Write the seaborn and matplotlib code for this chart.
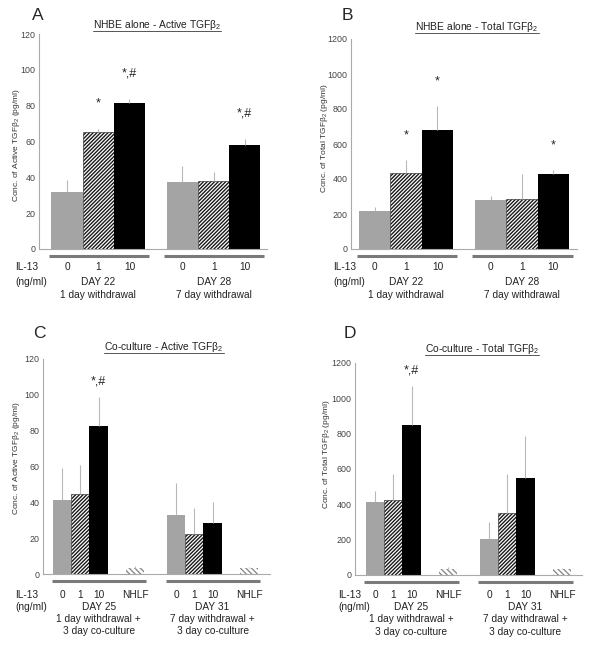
import numpy as np
import pandas as pd
import matplotlib
matplotlib.use('Agg')
import matplotlib.pyplot as plt
import seaborn as sns
from matplotlib import transforms

sns.set_style('white')
plt.rcParams['font.family'] = ['Liberation Sans', 'DejaVu Sans']
plt.rcParams['mathtext.fontset'] = 'custom'
plt.rcParams['mathtext.rm'] = 'Liberation Sans'
plt.rcParams['hatch.linewidth'] = 1.0

# ---- data (mean, SEM) ----
doses_ab = ['0', '1', '10', '0', '1', '10']
doses_cd = ['0', '1', '10', 'NHLF', '0', '1', '10', 'NHLF']

active_alone = [31.6, 65.1, 81.5, 37.2, 37.8, 57.9]
active_alone_sem = [7.1, 1.9, 2.4, 8.9, 5.2, 3.5]
total_alone = [215, 434, 682, 282, 286, 428]
total_alone_sem = [25, 73, 137, 19, 144, 22]
active_cocult = [41.4, 44.5, 82.4, 3.2, 33.0, 22.2, 28.7, 3.2]
active_cocult_sem = [17.6, 16.5, 16.6, 1.3, 18.0, 14.5, 11.7, 0.8]
total_cocult = [416, 425, 851, 32, 206, 350, 548, 32]
total_cocult_sem = [57, 146, 217, 11, 96, 221, 240, 6]

sig_a = {1: '*', 2: '*,#', 5: '*,#'}
sig_b = {1: '*', 2: '*', 5: '*'}
sig_c = {2: '*,#'}
sig_d = {2: '*,#'}

days_ab = [['DAY 22', '1 day withdrawal'], ['DAY 28', '7 day withdrawal']]
days_cd = [['DAY 25', '1 day withdrawal +', '3 day co-culture'],
           ['DAY 31', '7 day withdrawal +', '3 day co-culture']]

FW, FH = 600, 646
fig = plt.figure(figsize=(6, 6.46), dpi=100)


def fx(px):
    return px / FW


def fy(py):
    return 1 - py / FH


def style_bar(p, d):
    if d == '0':
        p.set_facecolor('#a4a4a4'); p.set_edgecolor('#a4a4a4'); p.set_linewidth(0)
    elif d == '1':
        p.set_facecolor('white'); p.set_edgecolor('#1a1a1a'); p.set_hatch('/' * 9); p.set_linewidth(0.4)
    elif d == '10':
        p.set_facecolor('black'); p.set_edgecolor('black'); p.set_linewidth(0)
    else:
        p.set_facecolor('white'); p.set_edgecolor('#8c8c8c'); p.set_hatch('\\' * 6); p.set_linewidth(0)


def panel(box, pos, means, sems, doses, days, ymax, ystep, sig, sig_off, groups, gap_tick,
          xlim, title, title_xy, ylab, ylab_xy, letter, letter_xy, rows_px, il_x):
    ax = fig.add_axes([fx(box[0]), fy(box[3]), fx(box[1] - box[0]), (box[3] - box[2]) / FH])
    df = pd.DataFrame({'pos': pos, 'conc': means})
    sns.barplot(data=df, x='pos', y='conc', native_scale=True, width=1, errorbar=None,
                color='black', ax=ax)
    for p, d in zip(ax.patches, doses):
        style_bar(p, d)
    top = np.array(means) + np.array(sems)
    ax.vlines(pos, means, top, color='#b8b8b8', lw=0.8, zorder=3)
    for i, s in sig.items():
        ax.text(pos[i], top[i] + sig_off, s, ha='center', va='center', fontsize=9)

    ax.set_xlim(*xlim)
    ax.set_ylim(0, ymax)
    ax.set_yticks(np.arange(0, ymax + 1, ystep))
    ax.set_xticks([gap_tick])
    ax.set_xticklabels([])
    ax.tick_params(axis='x', direction='in', length=4, color='#aaaaaa', width=0.7)
    ax.tick_params(axis='y', direction='out', length=2, color='#aaaaaa', width=0.7,
                   labelsize=6.4, labelcolor='#444444', pad=0.6)
    ax.set_xlabel('')
    ax.set_ylabel('')
    sns.despine(ax=ax)
    for sp in ['left', 'bottom']:
        ax.spines[sp].set_color('#aaaaaa')
        ax.spines[sp].set_linewidth(0.8)

    # group underlines and labels below the axis
    blend = transforms.blended_transform_factory(ax.transData, fig.transFigure)
    gline = fy(box[3] + 7)
    for g, (start, stop) in enumerate(groups):
        gp = pos[start:stop]
        ax.plot([gp[0] - 0.58, gp[-1] + 0.62], [gline, gline], transform=blend,
                color='#7a7a7a', lw=2.2, clip_on=False, solid_capstyle='butt')
        for j in range(start, stop):
            fig.text(pos[j], fy(rows_px[0]), doses[j], transform=blend,
                     ha='center', va='center', fontsize=7.3, color='#222222')
        centre = (gp[0] + gp[-1]) / 2
        for k, line in enumerate(days[g]):
            fig.text(centre, fy(rows_px[k + 1]), line, transform=blend,
                     ha='center', va='center', fontsize=7.3, color='#222222')
    fig.text(fx(il_x), fy(rows_px[0]), 'IL-13', ha='left', va='center', fontsize=7.3, color='#222222')
    fig.text(fx(il_x), fy(rows_px[1]), '(ng/ml)', ha='left', va='center', fontsize=7.3, color='#222222')

    fig.text(fx(ylab_xy[0]), fy(ylab_xy[1]), ylab, rotation=90, ha='center', va='center',
             fontsize=6.0, color='#333333')
    t = fig.text(fx(title_xy[0]), fy(title_xy[1]), title, ha='center', va='center',
                 fontsize=7.4, color='#222222')
    fig.canvas.draw()
    bb = t.get_window_extent()
    ul = fy(title_xy[1] + 5.5)
    fig.add_artist(plt.Line2D([bb.x0 / FW, bb.x1 / FW], [ul, ul], color='#555555', lw=0.7))
    fig.text(fx(letter_xy[0]), fy(letter_xy[1]), letter, ha='center', va='center', fontsize=12.5)
    return ax


pos_ab = [i + g * 3.7 for g in range(2) for i in range(3)]
pos_cd = [i + g * 6.25 for g in range(2) for i in [0, 1, 2, 4]]

panel((39, 267, 34, 249), pos_ab, active_alone, active_alone_sem, doses_ab, days_ab, 120, 20,
      sig_a, 14, [(0, 3), (3, 6)], 2.88, (-0.9, 6.41),
      'NHBE alone - Active TGFβ$_2$', (157, 25),
      'Conc. of Active TGFβ$_2$ (pg/ml)', (17, 145), 'A', (38, 16),
      [267, 282, 295], 15)
panel((351, 577, 39, 249), pos_ab, total_alone, total_alone_sem, doses_ab, days_ab, 1200, 200,
      sig_b, 140, [(0, 3), (3, 6)], 2.8, (-0.76, 6.46),
      'NHBE alone - Total TGFβ$_2$', (477, 27),
      'Conc. of Total TGFβ$_2$ (pg/ml)', (325, 138), 'B', (347, 16),
      [267, 282, 295], 333)
panel((43, 270, 359, 574), pos_cd, active_cocult, active_cocult_sem, doses_cd, days_cd, 120, 20,
      sig_c, 8.5, [(0, 4), (4, 8)], 5.2, (-1.05, 11.4),
      'Co-culture - Active TGFβ$_2$', (164, 347),
      'Conc. of Active TGFβ$_2$ (pg/ml)', (17, 458), 'C', (39, 333),
      [595, 607, 619, 631], 15)
panel((355, 582, 363, 575), pos_cd, total_cocult, total_cocult_sem, doses_cd, days_cd, 1200, 200,
      sig_d, 91, [(0, 4), (4, 8)], 5.0, (-1.1, 11.35),
      'Co-culture - Total TGFβ$_2$', (482, 349),
      'Conc. of Total TGFβ$_2$ (pg/ml)', (326, 454), 'D', (350, 334),
      [595, 607, 619, 632], 338)

fig.savefig('out.png', dpi=100, facecolor='white')
